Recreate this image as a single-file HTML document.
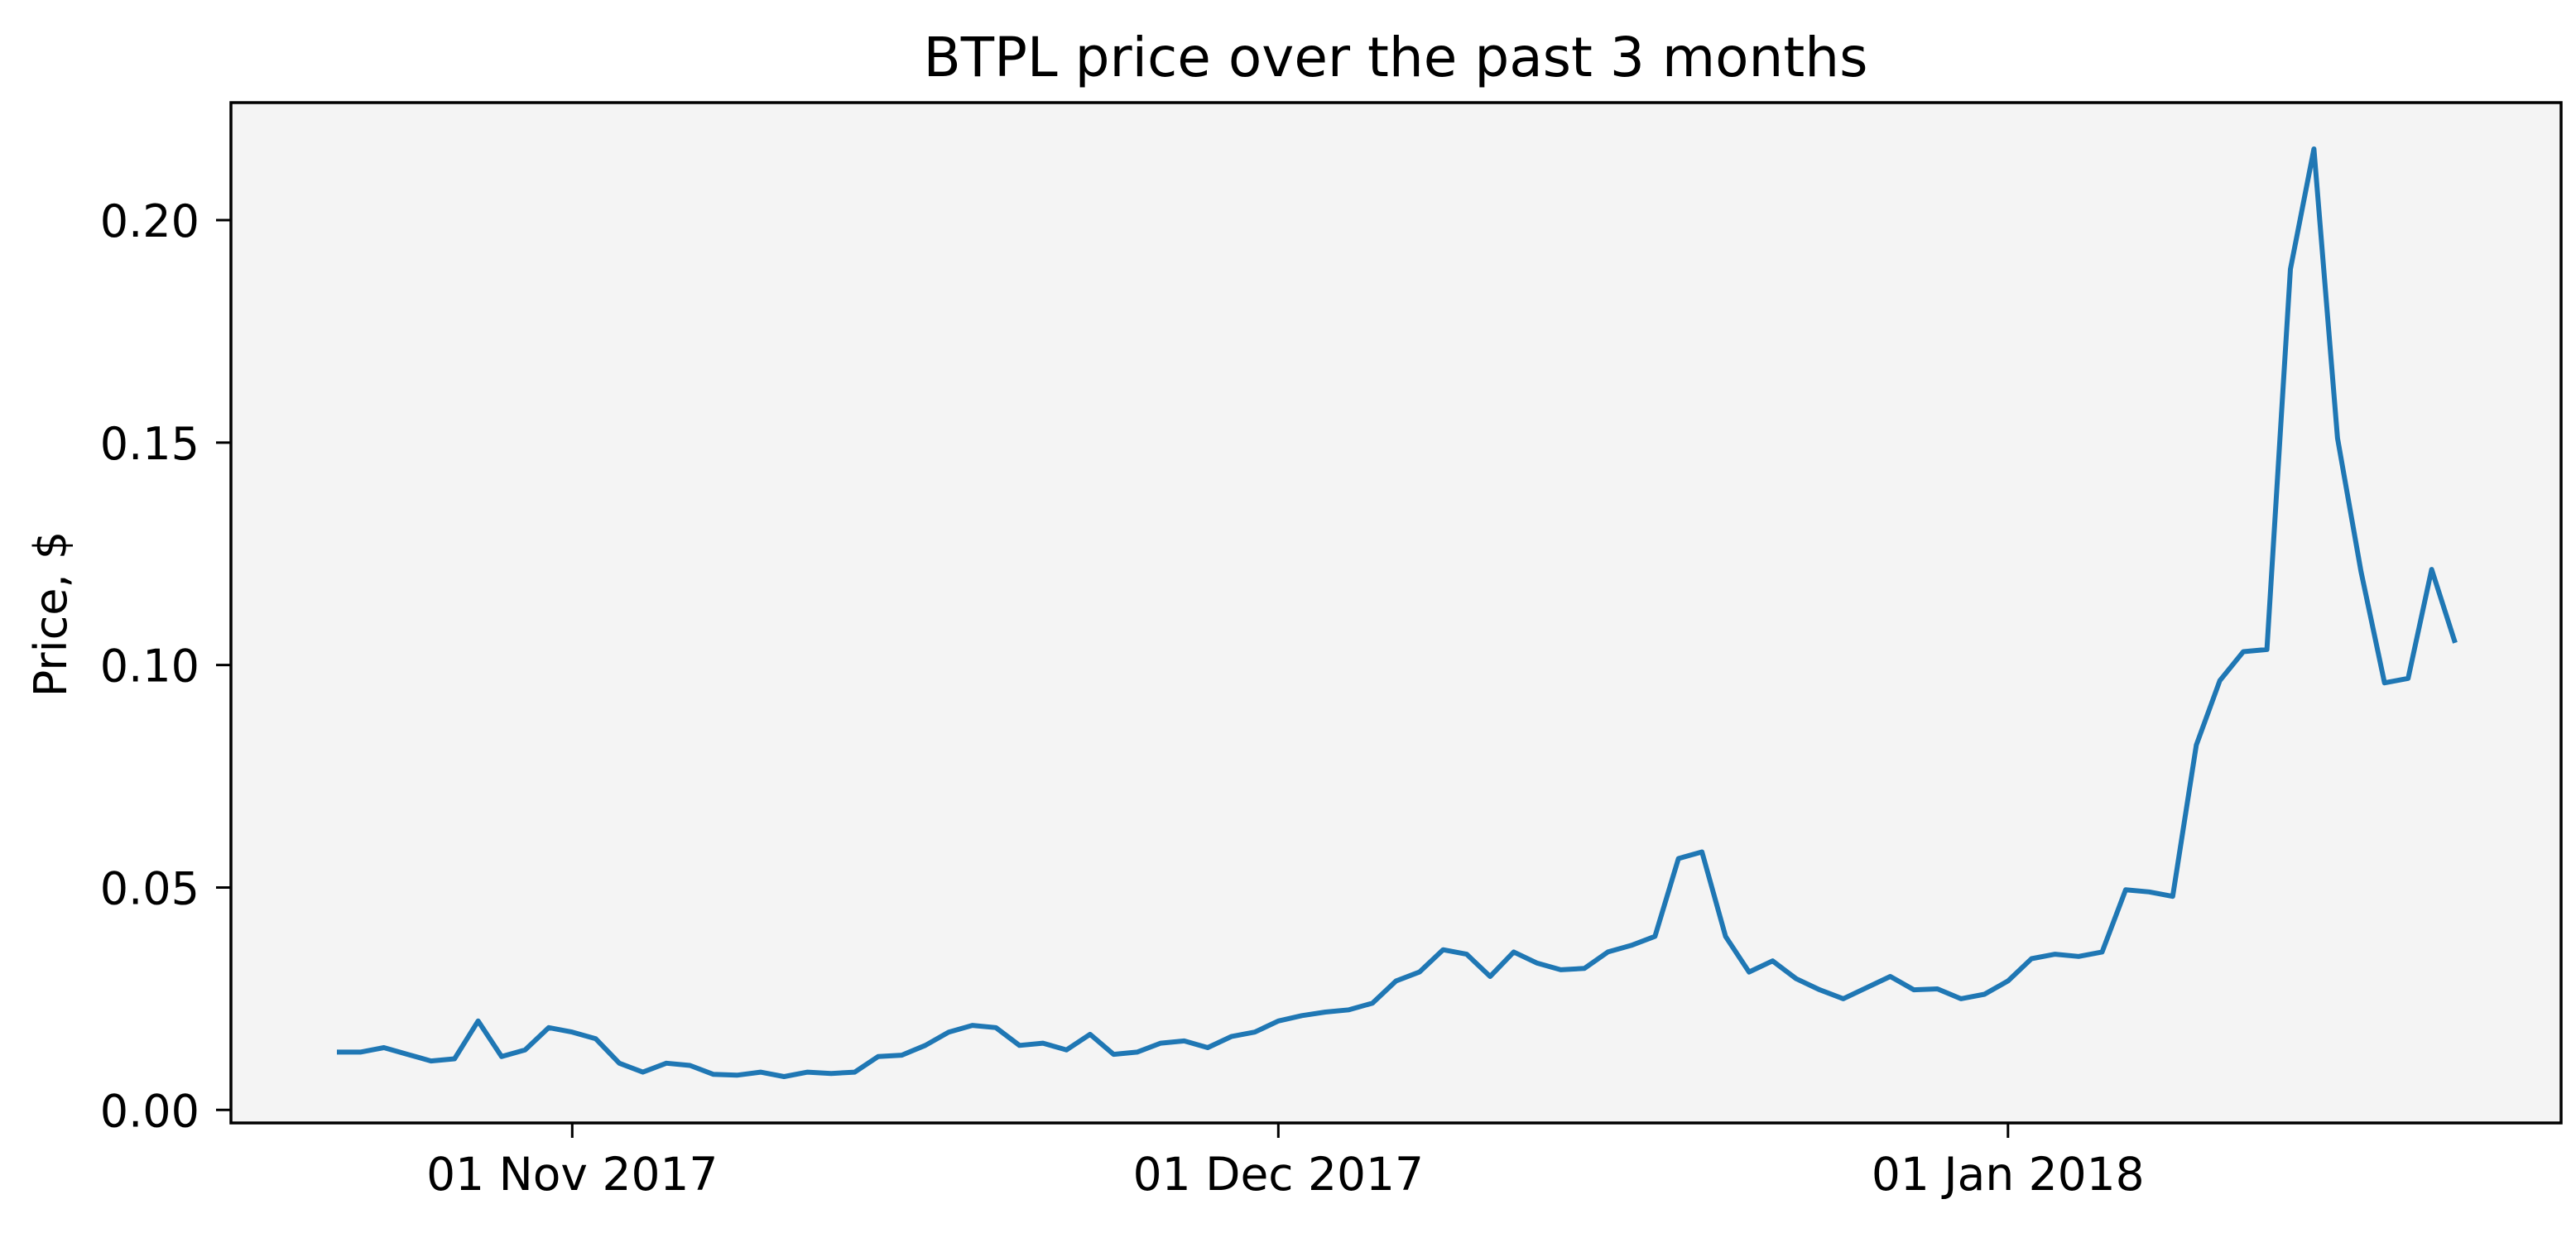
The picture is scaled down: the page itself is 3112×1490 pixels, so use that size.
<!DOCTYPE html>
<html><head><meta charset="utf-8"><style>
html,body{margin:0;padding:0;background:#fff;}
svg{display:block;}
text{font-family:"DejaVu Sans","Liberation Sans",sans-serif;fill:#000;}
</style></head><body>
<svg id="chart" width="3112" height="1490" viewBox="0 0 3112 1490" xmlns="http://www.w3.org/2000/svg">
<rect x="0" y="0" width="3112" height="1490" fill="#fff"/>
<rect x="279" y="124" width="2815" height="1233" fill="#f4f4f4"/>
<g id="marks"></g>
<rect x="279" y="124" width="2815" height="1233" fill="none" stroke="#000" stroke-width="3.5"/>
<g id="yticks"></g>
<g id="xticks"></g>
<text x="1686" y="92" font-size="66" text-anchor="middle">BTPL price over the past 3 months</text>
<text transform="translate(80,742) rotate(-90)" font-size="54" text-anchor="middle">Price, $</text>
</svg>
<script>
const startDate = "2017-10-22";
const prices = [0.013,0.013,0.014,0.0125,0.011,0.0115,0.020,0.012,0.0135,0.0185,
0.0175,0.016,0.0105,0.0085,0.0105,0.010,0.008,0.0078,0.0085,0.0075,
0.0085,0.0082,0.0085,0.012,0.0123,0.0145,0.0175,0.019,0.0185,0.0145,
0.015,0.0135,0.017,0.0125,0.013,0.015,0.0155,0.014,0.0165,0.0175,
0.020,0.0212,0.022,0.0225,0.024,0.029,0.031,0.036,0.035,0.030,
0.0355,0.033,0.0315,0.0318,0.0355,0.037,0.039,0.0565,0.058,0.039,
0.031,0.0335,0.0295,0.027,0.025,0.0275,0.030,0.027,0.0272,0.025,
0.026,0.029,0.034,0.035,0.0345,0.0355,0.0495,0.049,0.048,0.082,
0.0965,0.103,0.1035,0.189,0.216,0.151,0.121,0.096,0.097,0.1215,0.105];
const yTicks = [0.00,0.05,0.10,0.15,0.20];
const yTickLabels = ["0.00","0.05","0.10","0.15","0.20"];
const xTickDates = ["2017-11-01","2017-12-01","2018-01-01"];
const xTickLabels = ["01 Nov 2017","01 Dec 2017","01 Jan 2018"];

const NS="http://www.w3.org/2000/svg";
const L=279,R=3094,T=124,B=1357;
const DAY=86400000;
const t0=Date.parse(startDate+"T00:00:00Z");
const n=prices.length;
const xmin=-(n-1)*0.05, xmax=(n-1)*1.05;
let lo=Math.min(...prices),hi=Math.max(...prices),m=(hi-lo)*0.05;
const ymin=lo-m,ymax=hi+m;
function xs(d){return L+(d-xmin)/(xmax-xmin)*(R-L);}
function ys(v){return B-(v-ymin)/(ymax-ymin)*(B-T);}
function dayIdx(s){return (Date.parse(s+"T00:00:00Z")-t0)/DAY;}

const pts=prices.map((v,i)=>xs(i).toFixed(1)+","+ys(v).toFixed(1)).join(" ");
const line=document.createElementNS(NS,"polyline");
line.setAttribute("points",pts);
line.setAttribute("fill","none");
line.setAttribute("stroke","#1f77b4");
line.setAttribute("stroke-width","6");
line.setAttribute("stroke-linejoin","round");


document.getElementById("marks").appendChild(line);

const yg=document.getElementById("yticks");
yTicks.forEach((v,i)=>{
  const y=ys(v);
  const tk=document.createElementNS(NS,"line");
  tk.setAttribute("x1",L-18);tk.setAttribute("x2",L);tk.setAttribute("y1",y);tk.setAttribute("y2",y);
  tk.setAttribute("stroke","#000");tk.setAttribute("stroke-width","3");
  
  
  yg.appendChild(tk);
  const tx=document.createElementNS(NS,"text");
  tx.setAttribute("x",L-38);tx.setAttribute("y",y+20);
  tx.setAttribute("font-size","54");tx.setAttribute("text-anchor","end");
  tx.textContent=yTickLabels[i];
  
  
  yg.appendChild(tx);
});
const xg=document.getElementById("xticks");
xTickDates.forEach((s,i)=>{
  const x=xs(dayIdx(s));
  const tk=document.createElementNS(NS,"line");
  tk.setAttribute("x1",x);tk.setAttribute("x2",x);tk.setAttribute("y1",B);tk.setAttribute("y2",B+18);
  tk.setAttribute("stroke","#000");tk.setAttribute("stroke-width","3");
  
  
  xg.appendChild(tk);
  const tx=document.createElementNS(NS,"text");
  tx.setAttribute("x",x);tx.setAttribute("y",1438);
  tx.setAttribute("font-size","55");tx.setAttribute("text-anchor","middle");
  tx.textContent=xTickLabels[i];
  
  
  xg.appendChild(tx);
});
</script>
</body></html>
